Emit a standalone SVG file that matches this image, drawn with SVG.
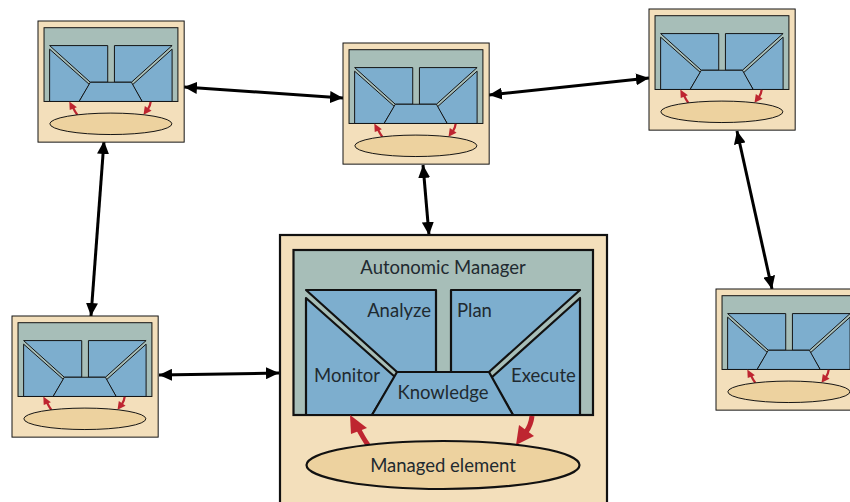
<svg xmlns="http://www.w3.org/2000/svg" xmlns:xlink="http://www.w3.org/1999/xlink" width="850" height="502" viewBox="0 0 850 502">
<style>
.o{fill:#f3dfbb;stroke:#111;stroke-width:2.2}
.i{fill:#a7beb8;stroke:#111;stroke-width:2.2}
.b{fill:#7daece;stroke:#111;stroke-width:2.2;stroke-linejoin:round}
.e{fill:#edd29f;stroke:#111;stroke-width:2.2}
.r{fill:none;stroke:#be2530;stroke-width:5}
.h{fill:#be2530}
.c{fill:none;stroke:#000;stroke-width:3;marker-start:url(#a);marker-end:url(#a)}
text{font-family:"Lato","Noto Sans",sans-serif;font-size:18.5px;fill:#1f2a30}
</style>
<defs>
<marker id="a" markerUnits="userSpaceOnUse" markerWidth="14" markerHeight="12" refX="13" refY="6" orient="auto-start-reverse"><path d="M0,0L13,6L0,12Z" fill="#000"/></marker>
<g id="n">
<rect class="o" x="280" y="235" width="327" height="271"/>
<rect class="i" x="293.500" y="250" width="299.500" height="165"/>
<path class="b" d="M306,290H436V372H397Z"/>
<path class="b" d="M451,290H580L489,372H451Z"/>
<path class="b" d="M306,298L395,377L372,415H306Z"/>
<path class="b" d="M580,298V415H513L491,378Z"/>
<path class="b" d="M397,372H489L513,415H372Z"/>
<path class="r" d="M368,445Q363,438 357,426"/>
<path class="h" d="M350,415L351,434L367,428Z"/>
<path class="r" d="M532,416Q531,425 526,432"/>
<path class="h" d="M516,445L519,425L534,436Z"/>
<ellipse class="e" cx="443" cy="465" rx="136.500" ry="24"/>
</g>
</defs>
<rect width="850" height="502" fill="#fff"/>
<g id="connectors">
<path class="c" d="M184,87L343,98"/>
<path class="c" d="M489,95L649,78"/>
<path class="c" d="M104,141L91,316"/>
<path class="c" d="M423,165L429,235"/>
<path class="c" d="M159,375L279,373"/>
<path class="c" d="M737,131L772,289"/>
</g>
<g id="manager"><use href="#n"/>
<text x="443" y="274" text-anchor="middle">Autonomic Manager</text>
<text x="431" y="317" text-anchor="end">Analyze</text>
<text x="457" y="317">Plan</text>
<text x="314" y="382">Monitor</text>
<text x="511" y="382">Execute</text>
<text x="443" y="399" text-anchor="middle">Knowledge</text>
<text x="443" y="472" text-anchor="middle">Managed element</text>
</g>
<g id="node-a"><use href="#n" transform="translate(38,21) scale(.447) translate(-280,-235)"/></g>
<g id="node-b"><use href="#n" transform="translate(343,43) scale(.447) translate(-280,-235)"/></g>
<g id="node-c"><use href="#n" transform="translate(649,9) scale(.447) translate(-280,-235)"/></g>
<g id="node-d"><use href="#n" transform="translate(12,316) scale(.447) translate(-280,-235)"/></g>
<g id="node-e"><use href="#n" transform="translate(716,289) scale(.447) translate(-280,-235)"/></g>
</svg>
